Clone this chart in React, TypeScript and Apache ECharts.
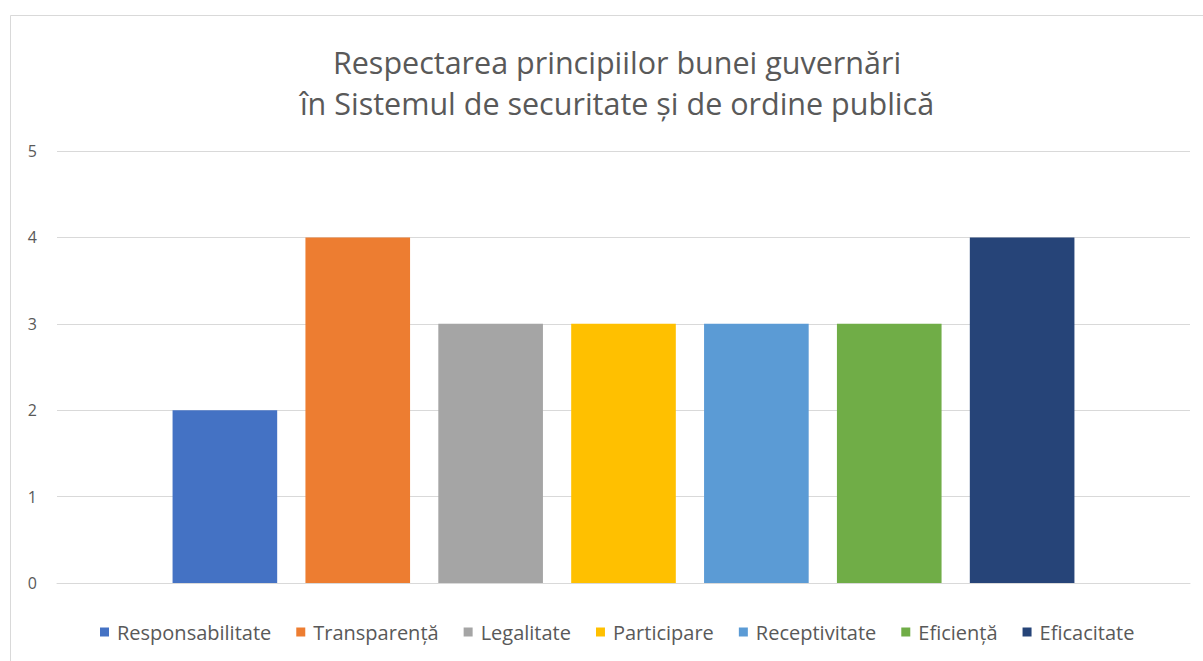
import React, { useEffect, useRef } from "react";
import * as echarts from "echarts";

const categories = [""];
const seriesNames = [
  "Responsabilitate",
  "Transparență",
  "Legalitate",
  "Participare",
  "Receptivitate",
  "Eficiență",
  "Eficacitate",
];
const seriesValues = [2, 4, 3, 3, 3, 3, 4];
const seriesColors = ["#4472C4", "#ED7D31", "#A5A5A5", "#FFC000", "#5B9BD5", "#70AD47", "#264478"];
const titleLines = [
  "Respectarea principiilor bunei guvernări",
  "în Sistemul de securitate și de ordine publică",
];

const FONT = "'Open Sans', sans-serif";

export default function App() {
  const ref = useRef<HTMLDivElement>(null);
  useEffect(() => {
    if (!ref.current) return;
    const chart = echarts.init(ref.current, undefined, { renderer: "svg" });
    chart.setOption({
      animation: false,
      backgroundColor: "#ffffff",
      color: seriesColors,
      title: {
        text: titleLines.join("\n"),
        left: 612,
        top: 36,
        textAlign: "center",
        textStyle: {
          fontFamily: FONT,
          fontSize: 30.5,
          fontWeight: "normal",
          color: "#595959",
          lineHeight: 41,
        },
      },
      graphic: [
        {
          type: "rect",
          shape: { x: 10.5, y: 15.5, width: 1220, height: 700 },
          style: { fill: "none", stroke: "#d9d9d9", lineWidth: 1 },
          silent: true,
          z: -10,
        },
      ],
      legend: {
        data: seriesNames,
        top: 617,
        left: 95,
        itemWidth: 9,
        itemHeight: 9,
        itemGap: 25,
        icon: "rect",
        textStyle: { fontFamily: FONT, fontSize: 20, color: "#595959", padding: [0, 0, 0, 3] },
      },
      grid: { left: 57, right: 13, top: 151, bottom: 78 },
      xAxis: {
        type: "category",
        data: categories,
        axisLine: { show: true, lineStyle: { color: "#d9d9d9", width: 1 } },
        axisTick: { show: false },
        axisLabel: { show: false },
      },
      yAxis: {
        type: "value",
        min: 0,
        max: 5,
        interval: 1,
        axisLine: { show: false },
        axisTick: { show: false },
        axisLabel: { fontFamily: FONT, fontSize: 16, color: "#595959", margin: 20 },
        splitLine: { lineStyle: { color: "#d9d9d9", width: 1 } },
      },
      series: seriesNames.map((name, i) => ({
        name,
        type: "bar",
        data: [seriesValues[i]],
        barGap: "27%",
        barCategoryGap: "20.4%",
        itemStyle: { color: seriesColors[i] },
      })),
    });
    return () => chart.dispose();
  }, []);
  return (
    <div
      ref={ref}
      style={{ position: "fixed", left: 0, top: 0, width: 1203, height: 661 }}
    />
  );
}
